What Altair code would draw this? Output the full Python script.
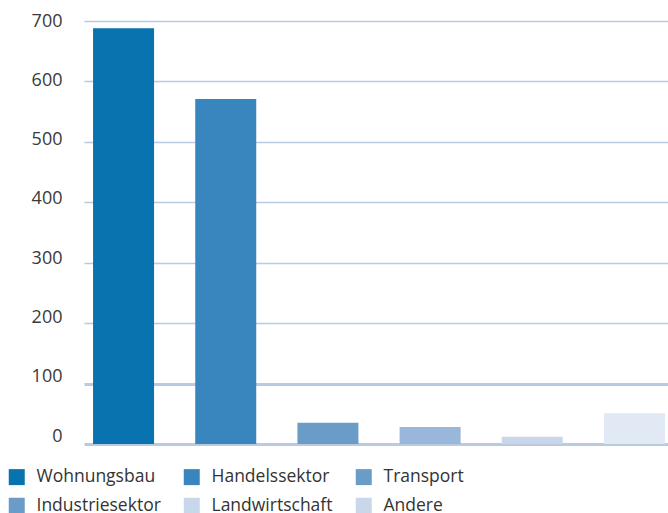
import altair as alt
import pandas as pd

categories = ["Wohnungsbau", "Handelssektor", "Transport", "Industriesektor", "Landwirtschaft", "Andere"]
values = [688, 571, 35, 28, 12, 51]
bar_colors = ["#0873ae", "#3886bd", "#6b9cc8", "#9ab6da", "#c8d7ea", "#e1e9f4"]
legend_colors = ["#0873ae", "#3886bd", "#6b9cc8", "#6b9cc8", "#c8d7ea", "#c8d7ea"]
y_ticks = [0, 100, 200, 300, 400, 500, 600, 700]

df = pd.DataFrame({"Sektor": categories, "Wert": values, "Legende": categories})

x_enc = alt.X("Sektor:N", sort=categories, axis=None,
              scale=alt.Scale(paddingInner=0.403, paddingOuter=0.059, align=0.75))
y_enc = alt.Y("Wert:Q",
              scale=alt.Scale(domain=[0, 700], nice=False),
              axis=alt.Axis(values=y_ticks, title=None, domain=False, ticks=False,
                            labelFont="Open Sans", labelFontSize=18, labelColor="#3a3a3a",
                            labelPadding=22,
                            labelOffset={"expr": "-8 + datum.value * 8 / 700"},
                            gridColor="#b9cbe3",
                            gridWidth={"condition": {"test": "datum.value <= 100", "value": 3}, "value": 1.5}))

bars = alt.Chart(df).mark_bar().encode(
    x=x_enc,
    y=y_enc,
    color=alt.Color("Sektor:N", scale=alt.Scale(domain=categories, range=bar_colors), legend=None),
)

legend_layer = alt.Chart(df).mark_square(opacity=0).encode(
    x=alt.X("Sektor:N", sort=categories),
    y=alt.Y("Wert:Q"),
    fill=alt.Fill("Legende:N", scale=alt.Scale(domain=categories, range=legend_colors),
                  legend=alt.Legend(title=None, orient="none", legendX=-76, legendY=447,
                                    direction="horizontal", columns=3, symbolType="square",
                                    symbolSize=256, symbolOpacity=1, symbolStrokeWidth=0,
                                    labelFont="Open Sans", labelFontSize=17.5,
                                    labelColor="#333333", labelOffset=11, columnPadding=22,
                                    rowPadding=10)),
)

chart = alt.layer(bars, legend_layer).resolve_scale(color="independent", fill="independent").properties(
    width=584, height=423, autosize="none",
    padding={"left": 84, "top": 21, "right": 0, "bottom": 69},
).configure_view(stroke=None)

chart.save("out.html", embed_options={"renderer": "svg", "actions": False})
